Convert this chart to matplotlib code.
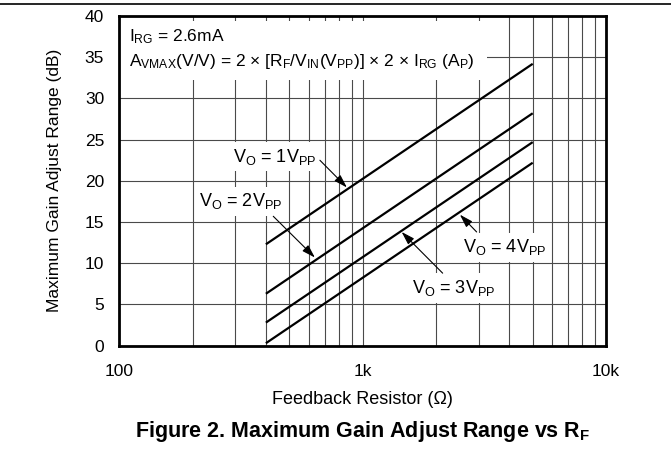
import numpy as np
import matplotlib
matplotlib.use('Agg')
import matplotlib.pyplot as plt
from matplotlib.patches import Rectangle
from matplotlib.lines import Line2D

plt.rcParams['font.family'] = ['Liberation Sans', 'DejaVu Sans']
plt.rcParams['mathtext.fontset'] = 'custom'
plt.rcParams['mathtext.rm'] = 'Liberation Sans'
plt.rcParams['mathtext.it'] = 'Liberation Sans:italic'
plt.rcParams['mathtext.bf'] = 'Liberation Sans:bold'

# --- данные (читаются с картинки) ---
rf = [400, 5000]                 # Ом
gain_1vpp = [12.3, 34.2]         # дБ
gain_2vpp = [6.3, 28.2]
gain_3vpp = [2.8, 24.7]
gain_4vpp = [0.3, 22.2]

y_ticks = [0, 5, 10, 15, 20, 25, 30, 35, 40]
x_ticks = [100, 1000, 10000]
x_ticklabels = ['100', '1k', '10k']

# подписи кривых: текст, позиция текста, хвост и острие стрелки
curve_labels = [
    ('V$_\\mathrm{O}$ = 1V$_\\mathrm{PP}$', (292, 22.9), (667, 22.5), (861, 19.2)),
    ('V$_\\mathrm{O}$ = 2V$_\\mathrm{PP}$', (213, 17.55), (429, 15.7), (636, 10.7)),
    ('V$_\\mathrm{O}$ = 4V$_\\mathrm{PP}$', (2576, 11.95), (2941, 13.8), (2510, 15.9)),
    ('V$_\\mathrm{O}$ = 3V$_\\mathrm{PP}$', (1589, 7.0), (2132, 8.8), (1446, 13.8)),
]

fig = plt.figure(figsize=(6.71, 4.74), dpi=100)
ax = fig.add_axes([0.178, 0.2707, 0.725, 0.6955])

for g in (gain_1vpp, gain_2vpp, gain_3vpp, gain_4vpp):
    ax.plot(rf, g, color='black', lw=1.6, solid_capstyle='butt', zorder=2)

ax.set_xscale('log')
ax.set_xlim(100, 10000)
ax.set_ylim(0, 40)
ax.set_xticks(x_ticks)
ax.set_xticklabels(x_ticklabels)
ax.set_yticks(y_ticks)
ax.xaxis.set_minor_formatter(matplotlib.ticker.NullFormatter())
ax.tick_params(which='both', length=0, labelsize=12.5)
ax.tick_params(axis='x', pad=13.5)
ax.tick_params(axis='y', pad=11)
ax.set_axisbelow(True)
ax.grid(True, which='both', color='#4a4a4a', lw=0.8)
for s in ax.spines.values():
    s.set_linewidth(2.0)

# белая подложка под формулой
ax.add_patch(Rectangle((0, 0.806), 0.755, 0.179, transform=ax.transAxes,
                       facecolor='white', edgecolor='none', zorder=1))
ax.text(0.0189, 0.922, 'I$_\\mathrm{RG}$ = 2.6mA', transform=ax.transAxes,
        fontsize=12.5, va='baseline', ha='left', zorder=3)
ax.text(0.0189, 0.848,
        'A$_\\mathrm{VMAX}$(V/V) = 2 \u00d7 [R$_\\mathrm{F}$/V$_\\mathrm{IN}$(V$_\\mathrm{PP}$)] '
        '\u00d7 2 \u00d7 I$_\\mathrm{RG}$ (A$_\\mathrm{P}$)',
        transform=ax.transAxes, fontsize=12.5, va='baseline', ha='left', zorder=3)

for txt, pos, tail, head in curve_labels:
    ax.text(pos[0], pos[1], txt, fontsize=13, ha='left', va='center', zorder=3,
            bbox=dict(boxstyle='square,pad=0.25', facecolor='white', edgecolor='none'))
    ax.annotate('', xy=head, xytext=tail, zorder=4,
                arrowprops=dict(arrowstyle='-|>,head_length=0.8,head_width=0.25',
                                color='black', lw=0.8, shrinkA=0, shrinkB=0))

fig.text(362 / 671, 1 - 399 / 474, 'Feedback Resistor (\u03a9)', fontsize=13,
         ha='center', va='center')
fig.text(55 / 671, 1 - 180 / 474, 'Maximum Gain Adjust Range (dB)', fontsize=12.5,
         rotation=90, ha='center', va='center')
fig.text(363 / 671, 1 - 431 / 474, 'Figure 2. Maximum Gain Adjust Range vs R$_\\mathbf{F}$',
         fontsize=15.5, fontweight='bold', ha='center', va='center')

fig.add_artist(Line2D([0, 1], [1 - 4.3 / 474, 1 - 4.3 / 474], color='black', lw=1.2,
                      transform=fig.transFigure))

fig.savefig('out.png', dpi=100)
